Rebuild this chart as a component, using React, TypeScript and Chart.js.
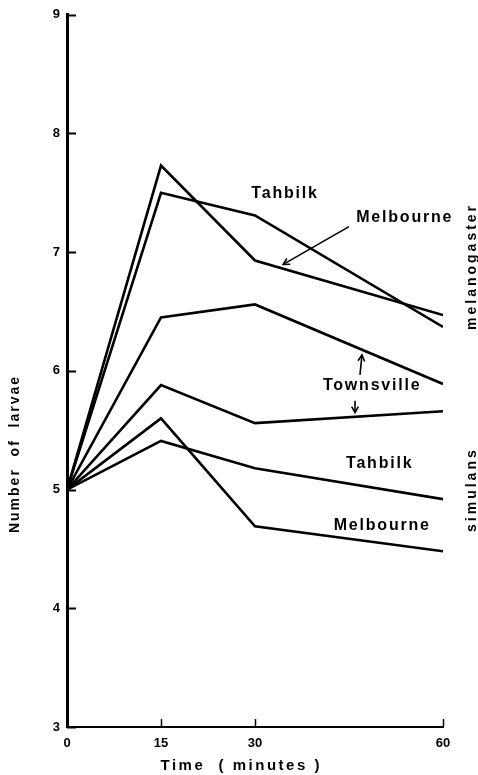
import React, { useEffect, useRef } from 'react';
import { Chart, registerables } from 'chart.js';

Chart.register(...registerables);

// ---- data ----
const xMinutes = [0, 15, 30, 60];
const xTickValues = [0, 15, 30, 60];
const yTickValues = [3, 4, 5, 6, 7, 8, 9];

const melMelbourne = [5.0, 7.73, 6.93, 6.47];
const melTahbilk = [5.0, 7.5, 7.31, 6.37];
const melTownsville = [5.0, 6.45, 6.56, 5.89];
const simTownsville = [5.0, 5.88, 5.56, 5.66];
const simTahbilk = [5.0, 5.41, 5.18, 4.92];
const simMelbourne = [5.0, 5.6, 4.69, 4.48];

const seriesNames = [
  'melanogaster Melbourne',
  'melanogaster Tahbilk',
  'melanogaster Townsville',
  'simulans Townsville',
  'simulans Tahbilk',
  'simulans Melbourne',
];
const seriesValues = [melMelbourne, melTahbilk, melTownsville, simTownsville, simTahbilk, simMelbourne];

// ---- annotations (data coordinates) ----
const labelTexts = [
  { text: 'Tahbilk', x: 34.8, y: 7.49 },
  { text: 'Melbourne', x: 53.9, y: 7.29 },
  { text: 'Townsville', x: 48.7, y: 5.88 },
  { text: 'Tahbilk', x: 49.9, y: 5.22 },
  { text: 'Melbourne', x: 50.3, y: 4.7 },
];
const arrows = [
  { x1: 45.0, y1: 7.215, x2: 34.5, y2: 6.897 },
  { x1: 46.75, y1: 5.967, x2: 47.07, y2: 6.134 },
  { x1: 45.96, y1: 5.749, x2: 45.96, y2: 5.648 },
];
const sideLabels = [
  { text: 'melanogaster', x: 64.6, y: 6.88 },
  { text: 'simulans', x: 64.6, y: 5.0 },
];
const yTitle = 'Number  of  larvae';
const xTitle = 'Time  ( minutes )';

const FONT = '"Liberation Sans", Arial, Helvetica, sans-serif';

const annotPlugin = {
  id: 'annot',
  afterDraw(chart: any) {
    const { ctx, scales } = chart;
    const x = scales.x;
    const y = scales.y;
    ctx.save();
    ctx.strokeStyle = '#000';
    ctx.fillStyle = '#000';
    // inward tick marks
    ctx.lineWidth = 2;
    y.ticks.forEach((t: any) => {
      const py = Math.round(y.getPixelForValue(t.value)) + 0.5;
      ctx.beginPath();
      ctx.moveTo(x.left, py);
      ctx.lineTo(x.left + 9, py);
      ctx.stroke();
    });
    ctx.lineWidth = 1.5;
    x.ticks.forEach((t: any) => {
      if (t.value === 0) return;
      const px = Math.round(x.getPixelForValue(t.value)) + 0.5;
      ctx.beginPath();
      ctx.moveTo(px, y.bottom);
      ctx.lineTo(px, y.bottom - 8);
      ctx.stroke();
    });

    // labels
    ctx.textAlign = 'center';
    ctx.textBaseline = 'middle';
    (ctx as any).letterSpacing = '1.8px';
    ctx.font = `bold 16px ${FONT}`;
    labelTexts.forEach((l) => {
      ctx.fillText(l.text, x.getPixelForValue(l.x), y.getPixelForValue(l.y));
    });

    // arrows
    ctx.lineWidth = 1.6;
    arrows.forEach((a) => {
      const x1 = x.getPixelForValue(a.x1);
      const y1 = y.getPixelForValue(a.y1);
      const x2 = x.getPixelForValue(a.x2);
      const y2 = y.getPixelForValue(a.y2);
      ctx.beginPath();
      ctx.moveTo(x1, y1);
      ctx.lineTo(x2, y2);
      ctx.stroke();
      const ang = Math.atan2(y2 - y1, x2 - x1);
      const hl = 7;
      ctx.beginPath();
      ctx.moveTo(x2 - hl * Math.cos(ang - 0.5), y2 - hl * Math.sin(ang - 0.5));
      ctx.lineTo(x2, y2);
      ctx.lineTo(x2 - hl * Math.cos(ang + 0.5), y2 - hl * Math.sin(ang + 0.5));
      ctx.stroke();
    });

    // side labels (rotated)
    ctx.font = `bold 14px ${FONT}`;
    (ctx as any).letterSpacing = '3px';
    sideLabels.forEach((l) => {
      ctx.save();
      ctx.translate(x.getPixelForValue(l.x), y.getPixelForValue(l.y));
      ctx.rotate(-Math.PI / 2);
      ctx.fillText(l.text, 0, 0);
      ctx.restore();
    });

    // axis titles
    ctx.font = `bold 14px ${FONT}`;
    (ctx as any).letterSpacing = '2px';
    ctx.save();
    ctx.translate(15, y.getPixelForValue(5.3));
    ctx.rotate(-Math.PI / 2);
    ctx.fillText(yTitle, 0, 0);
    ctx.restore();

    ctx.font = `bold 15px ${FONT}`;
    (ctx as any).letterSpacing = '2.5px';
    ctx.fillText(xTitle, x.getPixelForValue(27.8), 766);

    (ctx as any).letterSpacing = '0px';
    ctx.restore();
  },
};

export default function App() {
  const canvasRef = useRef<HTMLCanvasElement | null>(null);

  useEffect(() => {
    if (!canvasRef.current) return;
    const datasets = seriesValues.map((vals, i) => ({
      label: seriesNames[i],
      data: xMinutes.map((m, j) => ({ x: m, y: vals[j] })),
      borderColor: '#000',
      backgroundColor: '#000',
      borderWidth: 2.6,
      borderJoinStyle: 'miter' as const,
      pointRadius: 0,
      tension: 0,
      fill: false,
    }));
    const tickFont = { family: FONT, size: 13, weight: 'bold' as const };
    const chart = new Chart(canvasRef.current, {
      type: 'line',
      data: { datasets },
      options: {
        animation: false,
        responsive: true,
        maintainAspectRatio: false,
        layout: { padding: { top: 11, right: 35, left: 0, bottom: 0 } },
        plugins: { legend: { display: false }, tooltip: { enabled: false } },
        scales: {
          x: {
            type: 'linear',
            min: 0,
            max: 60,
            afterBuildTicks: (s: any) => {
              s.ticks = xTickValues.map((v) => ({ value: v }));
            },
            afterFit: (s: any) => {
              s.height = 48;
            },
            grid: { display: false, drawTicks: false, tickLength: 0 },
            border: { display: true, color: '#000', width: 2 },
            ticks: { font: tickFont, color: '#000', padding: 9, maxRotation: 0, autoSkip: false },
          },
          y: {
            type: 'linear',
            min: 3,
            max: 9,
            afterBuildTicks: (s: any) => {
              s.ticks = yTickValues.map((v) => ({ value: v }));
            },
            afterFit: (s: any) => {
              s.width = 67;
            },
            grid: { display: false, drawTicks: false, tickLength: 0 },
            border: { display: true, color: '#000', width: 3 },
            ticks: { font: tickFont, color: '#000', padding: 7 },
          },
        },
      },
      plugins: [annotPlugin],
    });
    return () => chart.destroy();
  }, []);

  return (
    <div style={{ position: 'absolute', left: 0, top: 0, width: 478, height: 775, background: '#fff' }}>
      <canvas ref={canvasRef} />
    </div>
  );
}
